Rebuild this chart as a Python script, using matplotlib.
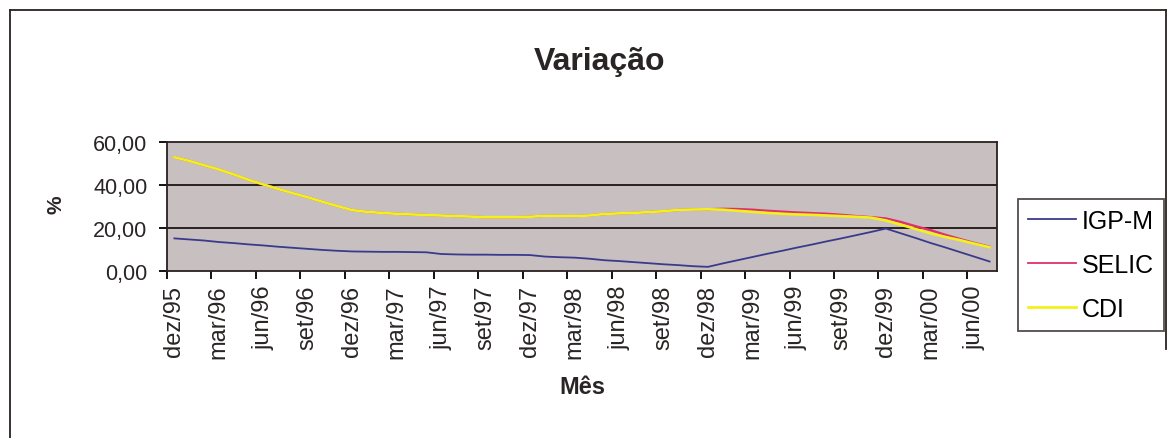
import numpy as np
import matplotlib
matplotlib.use("Agg")
import matplotlib.pyplot as plt
from matplotlib.lines import Line2D

plt.rcParams['font.family'] = ['Liberation Sans', 'DejaVu Sans']

# meses de dez/95 a jul/00 (56 pontos), rotulo a cada 3 meses
rotulos = ['dez/95', 'mar/96', 'jun/96', 'set/96', 'dez/96', 'mar/97', 'jun/97',
           'set/97', 'dez/97', 'mar/98', 'jun/98', 'set/98', 'dez/98', 'mar/99',
           'jun/99', 'set/99', 'dez/99', 'mar/00', 'jun/00']

igpm = [15.1, 14.6, 14.1, 13.4, 12.9, 12.3, 11.8, 11.2, 10.7, 10.2, 9.7, 9.3,
        9.0, 8.9, 8.8, 8.8, 8.7, 8.6, 7.8, 7.6, 7.5, 7.5, 7.4, 7.4,
        7.3, 6.6, 6.3, 6.1, 5.6, 4.9, 4.5, 4.0, 3.5, 3.0, 2.6, 2.1,
        1.8, 3.4, 4.9, 6.4, 7.9, 9.3, 10.8, 12.2, 13.7, 15.1, 16.6, 18.1,
        19.7, 17.5, 15.3, 13.0, 10.9, 8.7, 6.5, 4.3]

cdi = [53.0, 51.3, 49.3, 47.3, 45.0, 42.5, 40.3, 38.2, 36.2, 34.3, 32.2, 30.2,
       28.3, 27.5, 27.0, 26.6, 26.3, 26.0, 25.8, 25.5, 25.3, 25.0, 25.0, 25.0,
       25.2, 25.7, 25.6, 25.5, 25.8, 26.5, 26.8, 27.0, 27.4, 27.8, 28.4, 28.6,
       28.7, 28.5, 28.0, 27.5, 27.0, 26.6, 26.3, 26.1, 25.8, 25.5, 25.2, 24.8,
       23.5, 21.5, 19.5, 17.5, 15.8, 14.3, 12.6, 11.0]

selic = [53.0, 51.3, 49.3, 47.3, 45.0, 42.5, 40.3, 38.2, 36.2, 34.3, 32.2, 30.2,
         28.3, 27.5, 27.0, 26.6, 26.3, 26.0, 25.8, 25.5, 25.3, 25.0, 25.0, 25.0,
         25.2, 25.7, 25.6, 25.5, 25.8, 26.5, 26.8, 27.0, 27.4, 27.8, 28.4, 28.6,
         28.7, 28.9, 28.8, 28.5, 28.0, 27.6, 27.2, 26.9, 26.6, 26.1, 25.5, 25.0,
         24.4, 22.8, 20.8, 19.0, 16.8, 14.8, 12.9, 11.2]

W, H = 1174, 439
fig = plt.figure(figsize=(W / 100, H / 100), dpi=100)
fig.patch.set_facecolor('white')

ax = fig.add_axes([167 / W, 1 - 271.7 / H, (997 - 167) / W, (271.7 - 143.3) / H])
ax.set_facecolor('#c8c0c0')

x = np.arange(len(igpm))
ax.plot(x, igpm, color='#3a3a8c', lw=1.3, label='IGP-M', zorder=3)
ax.plot(x, selic, color='#e0306a', lw=1.7, label='SELIC', zorder=4)
ax.plot(x, cdi, color='#f2f21a', lw=1.9, label='CDI', zorder=5)

ax.set_xlim(-0.5, len(igpm) - 0.5)
ax.set_ylim(0, 60)

for v in (20, 40):
    ax.axhline(v, color='#2a2020', lw=1.4, zorder=2)

ax.set_yticks([0, 20, 40, 60])
ax.set_yticklabels(['0,00', '20,00', '40,00', '60,00'], fontsize=15.5, color='#2a2525')
ax.tick_params(axis='y', direction='out', length=6, width=1.3, pad=8)

ax.set_xticks(np.arange(-0.5, len(igpm), 3))
ax.set_xticklabels([])
ax.tick_params(axis='x', which='major', direction='out', length=6, width=1.3)
ax.set_xticks(np.arange(0, len(igpm), 3), minor=True)
ax.set_xticklabels(rotulos, minor=True, rotation=90, fontsize=17, color='#2a2525')
ax.tick_params(axis='x', which='minor', length=0, pad=10)

for s in ax.spines.values():
    s.set_linewidth(1.3)
    s.set_color('#2a2020')

fig.text(600 / W, 1 - 62 / H, 'Variação', ha='center', va='center',
         fontsize=23, fontweight='bold', color='#2a2525')
fig.text(582 / W, 1 - 388 / H, 'Mês', ha='center', va='center',
         fontsize=17, fontweight='bold', color='#2a2525')
fig.text(56 / W, 1 - 205 / H, '%', ha='center', va='center', rotation=90,
         fontsize=15, fontweight='bold', color='#2a2525')

handles = [Line2D([], [], color='#3a3a8c', lw=1.3),
           Line2D([], [], color='#e0306a', lw=1.3),
           Line2D([], [], color='#f2f21a', lw=2.0)]
leg = fig.legend(handles, ['IGP-M', 'SELIC', 'CDI'], loc='upper left',
                 bbox_to_anchor=(1018 / W, 1 - 200 / H), fontsize=18,
                 frameon=True, fancybox=False, handlelength=1.9,
                 handletextpad=0.25, labelspacing=0.8, borderpad=0.4,
                 borderaxespad=0)
leg.get_frame().set_edgecolor('#2a2020')
leg.get_frame().set_linewidth(1.3)

# moldura externa
fig.add_artist(Line2D([10 / W, 10 / W], [0, 1 - 11 / H], color='#2a2020', lw=1.3))
fig.add_artist(Line2D([10 / W, 1166 / W], [1 - 11 / H, 1 - 11 / H], color='#2a2020', lw=1.3))
fig.add_artist(Line2D([1166 / W, 1166 / W], [1 - 11 / H, 1 - 350 / H], color='#2a2020', lw=1.3))

fig.savefig('out.png', dpi=100)
